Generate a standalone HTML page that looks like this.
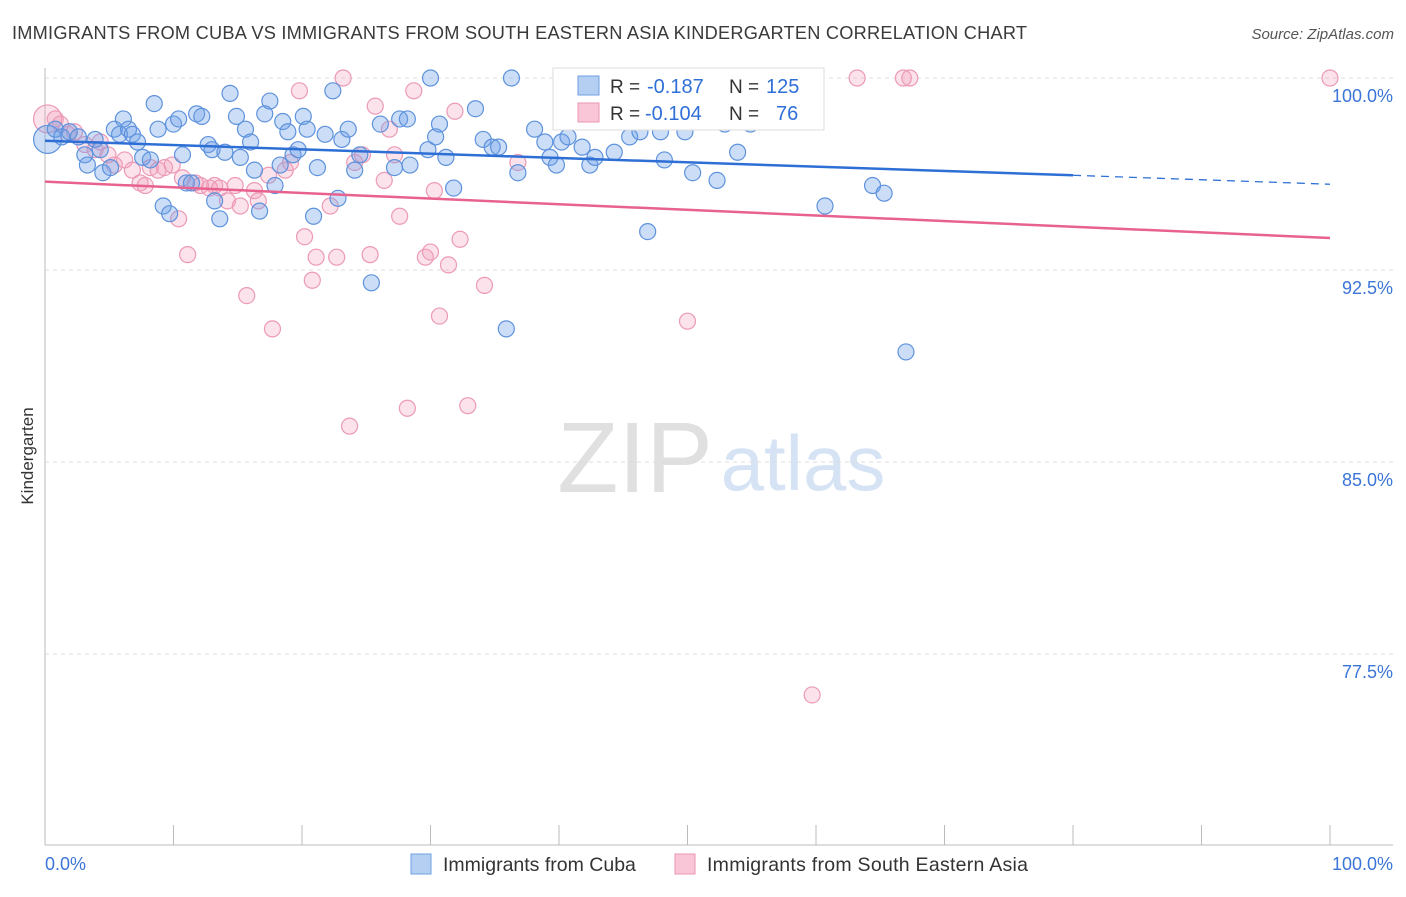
<!DOCTYPE html>
<html><head><meta charset="utf-8"><style>
body{margin:0;background:#fff;font-family:"Liberation Sans",sans-serif}
svg text{font-family:"Liberation Sans",sans-serif}
</style></head><body>
<svg id="chart" width="1406" height="892" xmlns="http://www.w3.org/2000/svg">
<text x="12" y="39" font-size="18.2" fill="#3a3a3a" textLength="1015">IMMIGRANTS FROM CUBA VS IMMIGRANTS FROM SOUTH EASTERN ASIA KINDERGARTEN CORRELATION CHART</text>
<text x="1394" y="39" font-size="15" fill="#555" font-style="italic" text-anchor="end">Source: ZipAtlas.com</text>
<text transform="translate(33,456) rotate(-90)" font-size="17" fill="#333" text-anchor="middle">Kindergarten</text>
<g>
<text x="635" y="492" font-size="100" fill="#e0e0e0" text-anchor="middle" font-family="Liberation Serif">ZIP</text>
<text x="803" y="490" font-size="78" fill="#d5e3f5" text-anchor="middle">atlas</text>
</g>
<g id="grid"></g><g id="axes"></g><g id="pts"></g><g id="lines"></g>
<g>
<rect x="553" y="68" width="271" height="62" fill="#fff" stroke="#ddd"/>
<rect x="578" y="76" width="21" height="19" fill="#b5cff2" stroke="#6f9fe0"/>
<rect x="578" y="103" width="21" height="19" fill="#f8c6d6" stroke="#eb96b2"/>
<text x="610" y="93" font-size="19" fill="#333">R =</text>
<text x="647" y="93" font-size="20" fill="#2f6fd8">-0.187</text>
<text x="729" y="93" font-size="19" fill="#333">N =</text>
<text x="766" y="93" font-size="20" fill="#2f6fd8">125</text>
<text x="610" y="120" font-size="19" fill="#333">R =</text>
<text x="645" y="120" font-size="20" fill="#2f6fd8">-0.104</text>
<text x="729" y="120" font-size="19" fill="#333">N =</text>
<text x="776" y="120" font-size="20" fill="#2f6fd8">76</text>
</g>
<g>
<rect x="411" y="854" width="20" height="20" fill="#b5cff2" stroke="#6f9fe0"/>
<text x="443" y="871" font-size="19.5" fill="#333">Immigrants from Cuba</text>
<rect x="675" y="854" width="20" height="20" fill="#f8c6d6" stroke="#eb96b2"/>
<text x="707" y="871" font-size="19.5" fill="#333" textLength="321">Immigrants from South Eastern Asia</text>
</g>
</svg>
<script>
const yTicks=[100,92.5,85,77.5];
const yTickLabels=["100.0%","92.5%","85.0%","77.5%"];
const cubaX=[0.2,0.8,1.3,1.9,2.6,3.1,3.3,3.9,4.3,4.5,5.1,5.4,5.8,6.1,6.5,6.8,7.2,7.6,8.2,8.5,8.8,9.2,9.7,10.0,10.4,10.7,11.0,11.4,11.8,12.2,12.7,13.0,13.2,13.6,14.0,14.4,14.9,15.2,15.6,16.0,16.3,16.7,17.1,17.5,17.9,18.3,18.5,18.9,19.3,19.7,20.1,20.4,20.9,21.2,21.8,22.4,22.8,23.1,23.6,24.1,24.5,25.4,26.1,27.2,27.6,28.2,28.4,29.8,30.0,30.4,30.7,31.2,31.8,33.5,34.1,34.8,35.3,35.9,36.3,36.8,38.1,38.9,39.3,39.8,40.2,40.7,41.8,42.4,42.8,44.3,45.5,46.3,46.9,47.9,48.2,49.8,50.4,52.3,52.9,53.9,54.9,60.7,64.4,65.3,67.0];
const cubaY=[97.6,98.0,97.7,97.9,97.7,97.0,96.6,97.6,97.2,96.3,96.5,98.0,97.8,98.4,98.0,97.8,97.5,96.9,96.8,99.0,98.0,95.0,94.7,98.2,98.4,97.0,95.9,95.9,98.6,98.5,97.4,97.2,95.2,94.5,97.1,99.4,98.5,96.9,98.0,97.5,96.4,94.8,98.6,99.1,95.8,96.6,98.3,97.9,97.0,97.2,98.5,98.0,94.6,96.5,97.8,99.5,95.3,97.6,98.0,96.4,97.0,92.0,98.2,96.5,98.4,98.4,96.6,97.2,100.0,97.7,98.2,96.9,95.7,98.8,97.6,97.3,97.3,90.2,100.0,96.3,98.0,97.5,96.9,96.6,97.5,97.7,97.3,96.6,96.9,97.1,97.7,97.9,94.0,97.9,96.8,97.9,96.3,96.0,98.2,97.1,98.2,95.0,95.8,95.5,89.3];
const seaX=[0.2,0.8,1.2,1.8,2.3,3.1,3.9,4.3,4.9,5.4,6.2,6.8,7.4,7.8,8.2,8.8,9.3,9.9,10.4,10.7,11.1,11.7,12.1,12.8,13.2,13.6,14.2,14.8,15.2,15.7,16.3,16.6,17.4,17.7,18.7,19.1,19.8,20.2,20.8,21.1,22.2,22.7,23.2,23.7,24.1,24.7,25.3,25.7,26.4,26.8,27.2,27.6,28.2,28.7,29.6,30.0,30.3,30.7,31.4,31.9,32.3,32.9,34.2,36.8,50.0,59.7,63.2,66.8,67.3,100];
const seaY=[98.4,98.4,98.2,97.8,97.9,97.4,97.2,97.5,97.0,96.6,96.8,96.4,95.9,95.8,96.5,96.4,96.5,96.6,94.5,96.1,93.1,95.9,95.8,95.7,95.8,95.7,95.2,95.8,95.0,91.5,95.6,95.2,96.2,90.2,96.4,96.7,99.5,93.8,92.1,93.0,95.0,93.0,100.0,86.4,96.7,97.0,93.1,98.9,96.0,98.0,97.0,94.6,87.1,99.5,93.0,93.2,95.6,90.7,92.7,98.7,93.7,87.2,91.9,96.7,90.5,75.9,100.0,100.0,100.0,100.0];
const cubaTrend=[97.55,96.2,95.85];
const seaTrend=[95.95,93.75];

const NS="http://www.w3.org/2000/svg";
const sx=v=>45+v*12.85, sy=v=>78+(100-v)*25.6;
function mk(tag,attrs,parent){const e=document.createElementNS(NS,tag);for(const k in attrs)e.setAttribute(k,attrs[k]);parent.appendChild(e);return e;}
const grid=document.getElementById('grid'),axes=document.getElementById('axes'),pts=document.getElementById('pts'),lines=document.getElementById('lines');
yTicks.forEach((t,i)=>{
 const l=mk('line',{x1:45,x2:1393,y1:sy(t),y2:sy(t),stroke:'#ddd','stroke-dasharray':'4,4'},grid);
 
 
 const tx=mk('text',{x:1393,y:sy(t)+24,'font-size':18,fill:'#3b75d8','text-anchor':'end'},axes);
 tx.textContent=yTickLabels[i];
 
 
});
mk('line',{x1:45,x2:45,y1:68,y2:845,stroke:'#bbb'},axes);
mk('line',{x1:45,x2:1393,y1:845,y2:845,stroke:'#bbb'},axes);
for(let i=0;i<=10;i++){const t=mk('line',{x1:sx(i*10),x2:sx(i*10),y1:825,y2:845,stroke:'#bbb'},axes);
 
 }
const x0=mk('text',{x:45,y:870,'font-size':18,fill:'#3b75d8'},axes);x0.textContent='0.0%';


const x1=mk('text',{x:1393,y:870,'font-size':18,fill:'#3b75d8','text-anchor':'end'},axes);x1.textContent='100.0%';


function dots(X,Y,fill,stroke,name){X.forEach((x,i)=>{
 const c=mk('circle',{cx:sx(x),cy:sy(Y[i]),r:i===0?14:8,fill:fill,stroke:stroke,'stroke-width':1.2},pts);
 
 });}
dots(seaX,seaY,'rgba(243,160,188,0.3)','#ec9ab5','point-sea');
dots(cubaX,cubaY,'rgba(110,160,232,0.35)','#5e92dc','point-cuba');
const bl=mk('line',{x1:sx(0),y1:sy(cubaTrend[0]),x2:sx(80),y2:sy(cubaTrend[1]),stroke:'#2e6fd6','stroke-width':2.5},lines);


const bd=mk('line',{x1:sx(80),y1:sy(cubaTrend[1]),x2:sx(100),y2:sy(cubaTrend[2]),stroke:'#2e6fd6','stroke-width':1.3,'stroke-dasharray':'8,6'},lines);


const pl=mk('line',{x1:sx(0),y1:sy(seaTrend[0]),x2:sx(100),y2:sy(seaTrend[1]),stroke:'#e8628f','stroke-width':2.5},lines);


</script>
</body></html>
